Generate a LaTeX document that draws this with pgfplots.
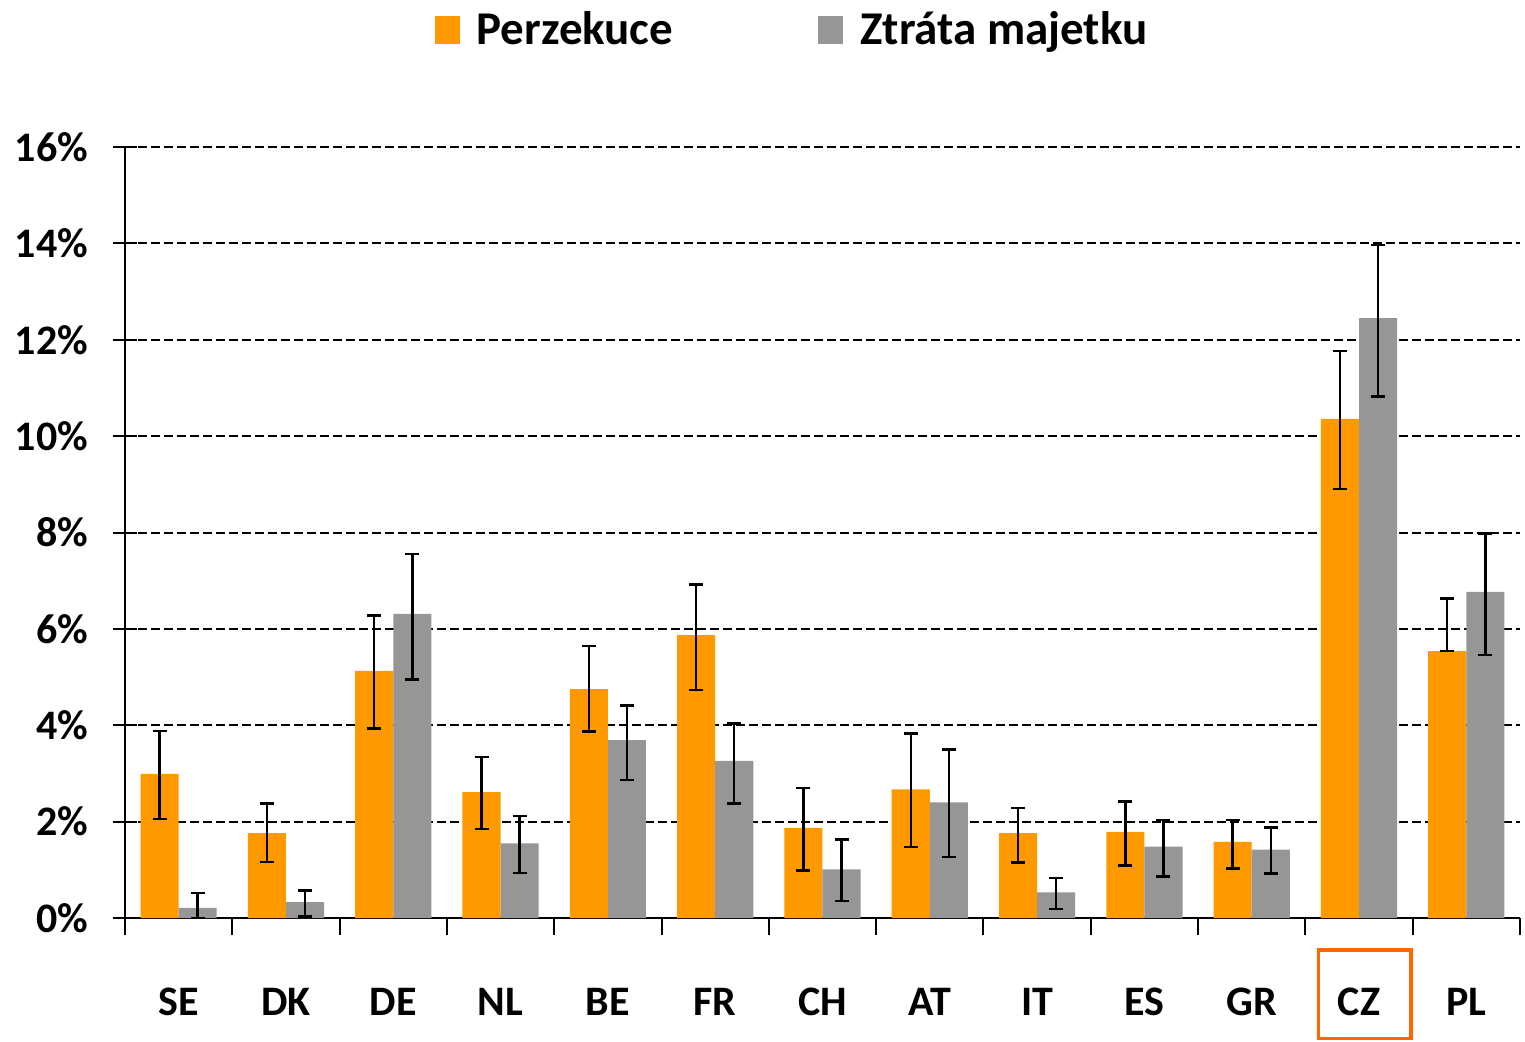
\documentclass[border=0pt]{standalone}
\usepackage{pgfplots}
\usepackage{pgfplotstable}
\usepackage{fontspec}
\setmainfont{Carlito}
\pgfplotsset{compat=1.18}
\definecolor{Orng}{HTML}{FF9900}
\definecolor{Gry}{HTML}{969696}
\definecolor{BoxRed}{HTML}{FF6600}

% x, perzekuce (+/-), ztrata majetku (+/-)
\pgfplotstableread{
x  o     op    om    g     gp    gm
0  2.99  0.89  0.94  0.21  0.31  0.21
1  1.76  0.62  0.60  0.33  0.24  0.30
2  5.13  1.15  1.20  6.31  1.25  1.36
3  2.61  0.73  0.76  1.55  0.57  0.61
4  4.75  0.89  0.88  3.69  0.72  0.83
5  5.87  1.05  1.14  3.26  0.78  0.88
6  1.87  0.83  0.88  1.01  0.62  0.66
7  2.67  1.16  1.20  2.40  1.10  1.14
8  1.76  0.52  0.61  0.53  0.30  0.34
9  1.79  0.63  0.70  1.48  0.56  0.62
10 1.58  0.46  0.55  1.42  0.46  0.50
11 10.36 1.41  1.46  12.45 1.52  1.63
12 5.54  1.09  0.00  6.77  1.21  1.31
}\datatable

\begin{document}
\begin{tikzpicture}
\begin{axis}[
    scale only axis,
    width=697.5pt, height=385.5pt,
    clip=false,
    ybar=0pt, bar width=0.355,
    xmin=-0.5, xmax=12.5,
    ymin=0, ymax=16,
    axis x line*=bottom, axis y line*=left,
    axis line style={-, line width=1pt, black},
    xtick={0,...,12},
    xticklabels={SE,DK,DE,NL,BE,FR,CH,AT,IT,ES,GR,CZ,PL},
    minor xtick={-0.5,0.5,...,12.5},
    major x tick style={draw=none},
    minor x tick style={line width=1pt, black},
    xtick align=outside,
    minor tick length=8.5pt,
    major tick length=12pt,
    ytick={0,2,...,16},
    ytick align=center,
    ytick style={line width=1pt, black},
    yticklabel={\pgfmathprintnumber{\tick}\%},
    /pgf/number format/assume math mode=true,
    xticklabel style={font=\bfseries\fontsize{21}{25}\selectfont, anchor=base, yshift=-36.5pt},
    yticklabel style={font=\bfseries\fontsize{21}{25}\selectfont, xshift=-9pt},
    ymajorgrids,
    grid style={black, line width=1pt, dash pattern=on 4.5pt off 2pt},
    legend columns=2,
    legend style={at={(0.4796,1.1518)}, anchor=center, draw=none,
        font=\bfseries\fontsize{23.5}{28}\selectfont,
        /tikz/every odd column/.append style={column sep=5.5pt},
        /tikz/every even column/.append style={column sep=69.5pt},
        nodes={inner sep=3pt}},
    legend image code/.code={\fill[#1] (0pt,-7pt) rectangle (12.5pt,7pt);},
    error bars/error bar style={line width=1.2pt, black},
    error bars/error mark options={rotate=90, mark size=3.5pt, line width=1.2pt, black},
]
\addplot[fill=Orng, draw=none,
    error bars/.cd, y dir=both, y explicit]
    table[x=x, y=o, y error plus=op, y error minus=om] {\datatable};
\addlegendentry{Perzekuce}
\addplot[fill=Gry, draw=none,
    error bars/.cd, y dir=both, y explicit]
    table[x=x, y=g, y error plus=gp, y error minus=gm] {\datatable};
\addlegendentry{Ztráta majetku}
\draw[BoxRed, line width=1.7pt] (axis cs:10.62,-0.664) rectangle (axis cs:11.485,-2.50);
\path (rel axis cs:-0.0896,-0.1608) rectangle (rel axis cs:1.0036,1.1907);
\end{axis}
\end{tikzpicture}
\end{document}
